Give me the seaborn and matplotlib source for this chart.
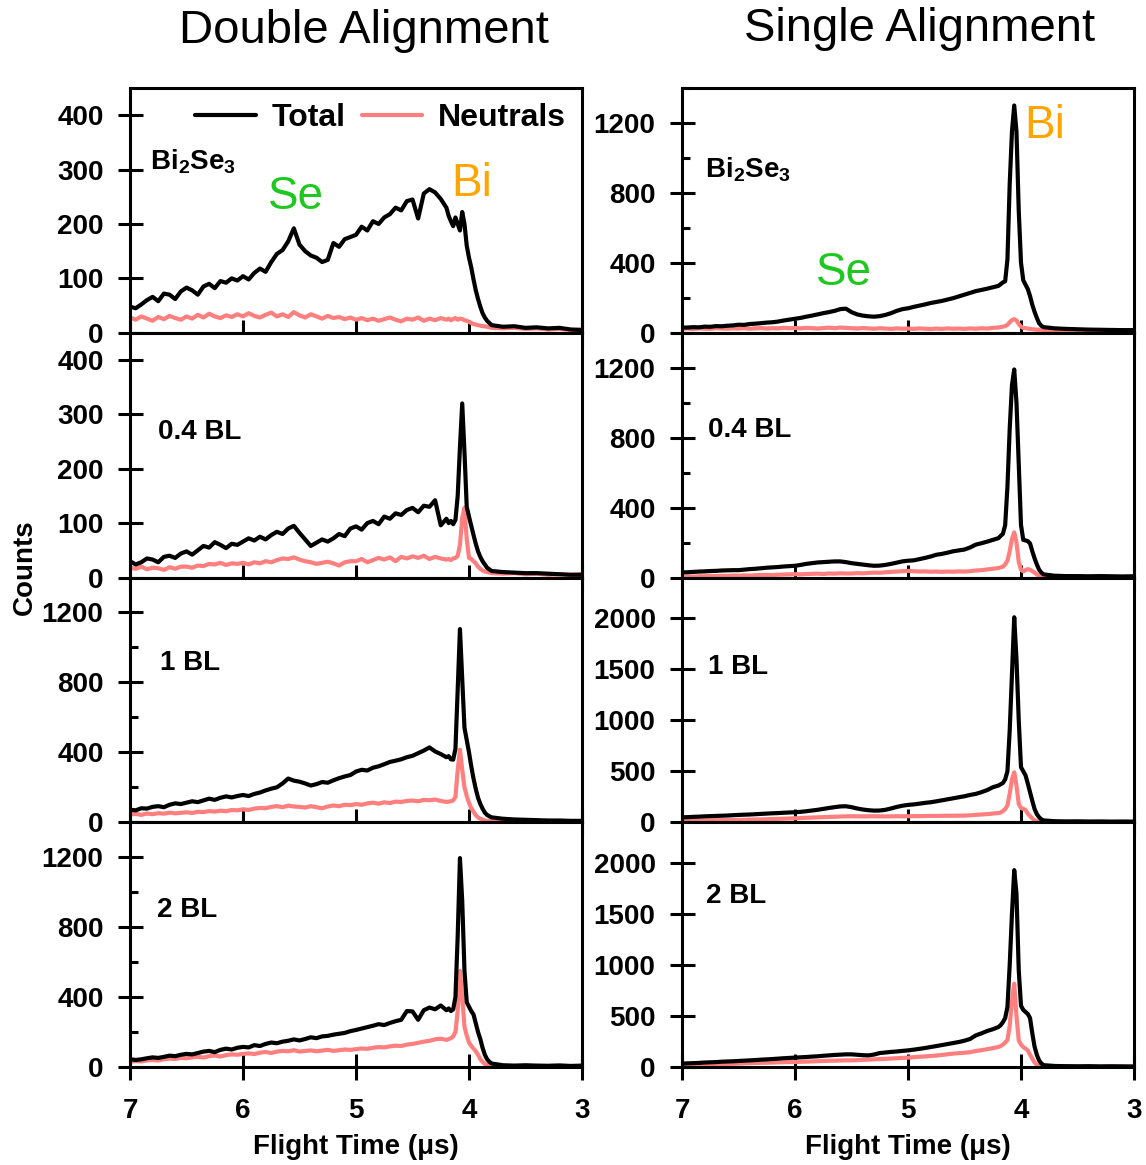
import numpy as np
import pandas as pd
import matplotlib
matplotlib.use("Agg")
import matplotlib.pyplot as plt
import seaborn as sns

# ---------------- data ----------------
flight_time = [7.00, 6.95, 6.90, 6.85, 6.80, 6.75, 6.70, 6.65, 6.60, 6.55,
               6.50, 6.45, 6.40, 6.35, 6.30, 6.25, 6.20, 6.15, 6.10, 6.05,
               6.00, 5.95, 5.90, 5.85, 5.80, 5.75, 5.70, 5.65, 5.60, 5.55,
               5.50, 5.45, 5.40, 5.35, 5.30, 5.25, 5.20, 5.15, 5.10, 5.05,
               5.00, 4.95, 4.90, 4.85, 4.80, 4.75, 4.70, 4.65, 4.60, 4.55,
               4.50, 4.45, 4.40, 4.35, 4.30, 4.25, 4.20,
               4.18, 4.16, 4.14, 4.12, 4.10, 4.08, 4.06, 4.04, 4.02, 4.00,
               3.98, 3.96, 3.94, 3.92, 3.90, 3.88, 3.86, 3.84, 3.82,
               3.80, 3.70, 3.60, 3.50, 3.40, 3.30, 3.20, 3.10, 3.00]

# Double alignment
double_bise_total = [48, 45, 52, 60, 66, 58, 72, 70, 62, 76,
                     83, 78, 70, 85, 90, 82, 95, 92, 100, 96,
                     104, 98, 110, 118, 112, 130, 145, 152, 168, 192,
                     162, 150, 142, 138, 130, 134, 165, 158, 172, 176,
                     180, 195, 188, 205, 200, 212, 218, 230, 225, 242,
                     245, 210, 256, 264, 258, 246, 230,
                     215, 205, 196, 212, 200, 188, 222, 200, 160, 138,
                     120, 98, 78, 62, 48, 36, 28, 22, 18,
                     14, 11, 12, 9, 10, 8, 9, 6, 5]
double_bise_neut = [28, 24, 30, 26, 22, 29, 25, 31, 27, 24,
                    30, 26, 33, 28, 35, 30, 27, 32, 29, 34,
                    30, 36, 31, 28, 33, 37, 30, 34, 29, 38,
                    32, 28, 34, 30, 26, 31, 27, 29, 25, 28,
                    24, 27, 23, 26, 22, 25, 28, 24, 21, 26,
                    24, 28, 22, 26, 23, 27, 24,
                    26, 23, 25, 27, 24, 26, 25, 23, 22, 20,
                    18, 16, 15, 14, 13, 12, 12, 11, 10,
                    9, 8, 9, 7, 8, 6, 7, 5, 6]
double_04_total = [30, 24, 28, 35, 33, 28, 38, 40, 36, 44,
                   48, 42, 50, 58, 55, 65, 60, 54, 62, 60,
                   66, 72, 68, 75, 70, 78, 84, 80, 90, 95,
                   82, 70, 58, 64, 70, 66, 72, 80, 76, 90,
                   94, 88, 100, 104, 98, 112, 108, 118, 115, 124,
                   128, 120, 132, 130, 142, 96, 108,
                   100, 104, 98, 106, 150, 240, 320, 230, 130, 112,
                   95, 78, 62, 48, 38, 30, 24, 18, 15,
                   12, 10, 9, 8, 8, 7, 6, 5, 5]
double_04_neut = [18, 16, 20, 15, 18, 17, 14, 19, 16, 20,
                  20, 18, 22, 21, 25, 24, 27, 23, 26, 25,
                  27, 24, 28, 26, 30, 28, 32, 35, 34, 37,
                  33, 30, 28, 25, 27, 29, 26, 22, 28, 30,
                  30, 34, 28, 32, 36, 33, 37, 30, 38, 35,
                  39, 36, 40, 34, 38, 35, 33,
                  34, 32, 35, 36, 40, 60, 110, 128, 70, 36,
                  34, 30, 26, 20, 16, 13, 11, 10, 9,
                  8, 7, 8, 6, 7, 5, 6, 5, 6]
double_1_total = [72, 68, 80, 78, 88, 92, 86, 100, 108, 104,
                  112, 120, 115, 125, 135, 128, 140, 148, 142, 150,
                  156, 150, 162, 170, 182, 192, 200, 222, 250, 238,
                  232, 222, 210, 218, 230, 226, 240, 252, 262, 270,
                  290, 300, 296, 312, 320, 332, 345, 352, 360, 372,
                  380, 395, 410, 428, 405, 390, 372,
                  378, 360, 358, 420, 760, 1105, 820, 540, 470, 400,
                  320, 250, 190, 140, 105, 78, 55, 42, 34,
                  28, 20, 16, 14, 12, 10, 10, 8, 8]
double_1_neut = [45, 48, 42, 50, 46, 52, 49, 55, 51, 54,
                 57, 53, 60, 58, 64, 61, 66, 63, 70, 68,
                 74, 70, 78, 82, 80, 88, 92, 86, 95, 90,
                 88, 84, 92, 86, 80, 90, 96, 92, 100, 98,
                 104, 100, 108, 112, 106, 114, 110, 118, 116, 122,
                 124, 120, 128, 126, 130, 122, 116,
                 118, 120, 125, 145, 300, 415, 300, 200, 150, 110,
                 80, 60, 40, 28, 20, 15, 10, 8, 7,
                 6, 5, 5, 4, 5, 4, 3, 4, 3]
double_2_total = [45, 40, 44, 50, 55, 52, 58, 65, 62, 70,
                  75, 72, 80, 88, 92, 85, 98, 105, 100, 110,
                  115, 112, 125, 120, 132, 140, 136, 145, 150, 158,
                  152, 160, 170, 165, 175, 178, 185, 190, 195, 205,
                  212, 220, 228, 236, 245, 240, 252, 262, 270, 320,
                  318, 270, 325, 340, 330, 352, 325,
                  335, 320, 330, 400, 750, 1195, 950, 550, 370, 345,
                  320, 300, 250, 200, 160, 110, 70, 45, 30,
                  20, 10, 8, 10, 8, 7, 9, 6, 8]
double_2_neut = [30, 34, 32, 38, 40, 37, 44, 48, 46, 52,
                 50, 55, 58, 54, 62, 66, 60, 68, 72, 70,
                 75, 78, 74, 82, 86, 80, 88, 92, 90, 96,
                 88, 92, 95, 90, 94, 98, 92, 96, 100, 98,
                 102, 106, 104, 110, 114, 112, 118, 122, 120, 128,
                 132, 138, 145, 150, 158, 162, 155,
                 160, 165, 175, 200, 320, 550, 400, 230, 180, 140,
                 120, 105, 90, 70, 45, 30, 18, 12, 9,
                 7, 6, 5, 6, 4, 5, 4, 5, 4]

# Single alignment
single_bise_total = [29, 30, 32, 31, 35, 34, 38, 37, 40, 42,
                     46, 45, 50, 52, 55, 58, 60, 64, 70, 75,
                     80, 85, 92, 98, 105, 112, 118, 125, 135, 138,
                     118, 105, 98, 94, 92, 95, 102, 112, 125, 135,
                     140, 148, 155, 162, 170, 176, 182, 190, 198, 208,
                     218, 228, 238, 245, 252, 260, 268,
                     278, 288, 295, 420, 850, 1150, 1300, 1150, 700, 400,
                     300, 275, 250, 210, 160, 120, 85, 55, 40,
                     32, 25, 22, 20, 18, 17, 16, 15, 15]
single_bise_neut = [22, 24, 21, 25, 23, 22, 26, 24, 23, 25,
                    24, 26, 23, 25, 27, 24, 26, 25, 28, 26,
                    27, 25, 28, 26, 24, 27, 29, 26, 30, 28,
                    26, 24, 27, 25, 23, 26, 24, 22, 25, 23,
                    24, 22, 25, 23, 21, 24, 22, 25, 23, 24,
                    22, 25, 23, 26, 24, 28, 30,
                    32, 35, 38, 45, 60, 72, 78, 70, 50, 35,
                    28, 26, 24, 22, 20, 19, 18, 17, 17,
                    16, 15, 16, 14, 15, 14, 15, 13, 14]
single_04_total = [29, 30, 32, 34, 35, 37, 38, 40, 41, 42,
                   42, 45, 48, 50, 53, 56, 58, 60, 63, 65,
                   67, 72, 78, 82, 86, 88, 90, 92, 92, 88,
                   82, 78, 74, 70, 67, 68, 72, 78, 85, 92,
                   96, 98, 105, 112, 120, 130, 135, 142, 150, 155,
                   160, 172, 188, 196, 205, 215, 225,
                   238, 250, 300, 520, 850, 1100, 1190, 1000, 650, 300,
                   215, 212, 208, 195, 150, 110, 75, 45, 28,
                   18, 10, 8, 8, 7, 8, 7, 6, 7]
single_04_neut = [4, 6, 5, 8, 7, 9, 8, 10, 9, 11,
                  10, 12, 11, 13, 14, 15, 14, 16, 17, 18,
                  19, 18, 20, 21, 22, 20, 23, 22, 24, 23,
                  23, 25, 24, 26, 28, 27, 30, 32, 34, 36,
                  38, 36, 34, 35, 33, 34, 32, 34, 33, 35,
                  34, 36, 40, 42, 46, 50, 54,
                  58, 62, 75, 96, 150, 220, 258, 200, 90, 45,
                  35, 42, 48, 44, 36, 28, 18, 10, 6,
                  4, 3, 4, 3, 3, 4, 3, 3, 4]
single_1_total = [49, 50, 53, 55, 58, 60, 62, 64, 66, 69,
                  72, 74, 76, 79, 82, 85, 88, 90, 93, 96,
                  98, 102, 108, 115, 122, 131, 140, 148, 155, 157,
                  148, 135, 125, 118, 114, 115, 122, 135, 150, 162,
                  170, 175, 182, 190, 196, 205, 215, 225, 235, 245,
                  255, 268, 278, 295, 315, 343, 360,
                  372, 385, 420, 500, 900, 1450, 2010, 1600, 1000, 540,
                  500, 460, 380, 295, 210, 130, 80, 50, 28,
                  18, 10, 8, 9, 7, 8, 6, 7, 6]
single_1_neut = [16, 17, 18, 18, 19, 20, 20, 21, 22, 22,
                 23, 24, 26, 27, 28, 30, 32, 33, 35, 37,
                 39, 41, 44, 46, 48, 50, 52, 54, 56, 58,
                 59, 58, 57, 58, 59, 58, 57, 58, 59, 58,
                 59, 60, 60, 61, 62, 62, 63, 64, 64, 65,
                 65, 68, 72, 76, 80, 85, 90,
                 95, 110, 130, 165, 280, 420, 490, 360, 180, 140,
                 132, 120, 85, 60, 38, 18, 10, 6, 5,
                 4, 4, 3, 4, 3, 3, 4, 3, 3]
single_2_total = [33, 36, 38, 40, 44, 46, 48, 52, 54, 56,
                  59, 62, 65, 68, 72, 75, 78, 82, 86, 89,
                  92, 95, 98, 102, 105, 110, 114, 118, 121, 124,
                  124, 120, 116, 114, 122, 137, 142, 148, 152, 158,
                  163, 170, 178, 186, 196, 205, 215, 225, 235, 245,
                  258, 275, 310, 330, 353, 370, 392,
                  410, 440, 480, 588, 1000, 1500, 1930, 1700, 950, 600,
                  560, 540, 520, 480, 330, 200, 120, 65, 35,
                  18, 10, 8, 7, 8, 6, 7, 6, 5]
single_2_neut = [16, 18, 19, 21, 22, 24, 25, 27, 29, 31,
                 33, 35, 37, 39, 41, 42, 44, 46, 47, 49,
                 49, 51, 53, 55, 57, 59, 61, 62, 64, 65,
                 65, 67, 70, 72, 75, 78, 80, 83, 86, 89,
                 92, 96, 100, 104, 108, 112, 118, 125, 131, 136,
                 140, 145, 157, 165, 175, 185, 196,
                 205, 220, 240, 265, 400, 650, 817, 500, 261, 220,
                 196, 180, 163, 120, 82, 45, 22, 12, 8,
                 5, 4, 4, 3, 4, 3, 4, 3, 3]

row_labels = [r"$\mathbf{Bi_2Se_3}$", "0.4 BL", "1 BL", "2 BL"]
series_names = ["Total", "Neutrals"]
xticks = [7, 6, 5, 4, 3]

panels = [
    # (row, col, total, neutrals, ylim, major, minor, label_pos)
    (0, 0, double_bise_total, double_bise_neut, 450, [0, 100, 200, 300, 400], [], (0.044, 0.70)),
    (1, 0, double_04_total, double_04_neut, 450, [0, 100, 200, 300, 400], [], (0.062, 0.596)),
    (2, 0, double_1_total, double_1_neut, 1400, [0, 400, 800, 1200], [200, 600, 1000], (0.066, 0.65)),
    (3, 0, double_2_total, double_2_neut, 1400, [0, 400, 800, 1200], [200, 600, 1000], (0.060, 0.64)),
    (0, 1, single_bise_total, single_bise_neut, 1400, [0, 400, 800, 1200], [200, 600, 1000, 1400], (0.051, 0.665)),
    (1, 1, single_04_total, single_04_neut, 1400, [0, 400, 800, 1200], [200, 600, 1000, 1400], (0.058, 0.604)),
    (2, 1, single_1_total, single_1_neut, 2400, [0, 500, 1000, 1500, 2000], [], (0.058, 0.633)),
    (3, 1, single_2_total, single_2_neut, 2400, [0, 500, 1000, 1500, 2000], [], (0.053, 0.698)),
]

# ---------------- style ----------------
sns.set_style("ticks")
plt.rcParams['font.family'] = ['Liberation Sans', 'DejaVu Sans']
plt.rcParams['mathtext.fontset'] = 'custom'
plt.rcParams['mathtext.rm'] = 'Liberation Sans'
plt.rcParams['mathtext.bf'] = 'Liberation Sans:bold'
plt.rcParams['axes.linewidth'] = 2.2
for key in ['text.color', 'axes.labelcolor', 'xtick.color', 'ytick.color', 'axes.edgecolor']:
    plt.rcParams[key] = 'black'

BLACK = "#000000"
PINK = "#FF7F7F"
GREEN = "#1EC81E"
ORANGE = "#FFA500"

fig = plt.figure(figsize=(11.46, 11.65), dpi=100)
gs = fig.add_gridspec(4, 2, left=130/1146, right=1134/1146,
                      top=1 - 88/1165, bottom=1 - 1067/1165,
                      hspace=0, wspace=100/452)

for row, col, tot, neu, ytop, major, minor, lpos in panels:
    ax = fig.add_subplot(gs[row, col])
    df = pd.DataFrame({"t": flight_time, "Total": tot, "Neutrals": neu})
    sns.lineplot(data=df, x="t", y="Neutrals", color=PINK, lw=3, ax=ax,
                 label="Neutrals" if (row == 0 and col == 0) else None, legend=False)
    sns.lineplot(data=df, x="t", y="Total", color=BLACK, lw=3, ax=ax,
                 label="Total" if (row == 0 and col == 0) else None, legend=False)
    ax.set_xlim(7, 3)
    ax.set_ylim(0, ytop)
    ax.set_xticks(xticks)
    ax.set_yticks(major)
    ax.set_yticks(minor, minor=True)
    ax.set_ylabel("")
    for s in ax.spines.values():
        s.set_linewidth(2.2)
        s.set_color("black")
    ax.tick_params(axis='x', which='major', direction='inout', length=19, width=2.2,
                   labelsize=20, pad=13, labelbottom=(row == 3), colors='black')
    ax.tick_params(axis='y', which='major', direction='inout', length=18, width=2.2,
                   labelsize=20, pad=10, colors='black')
    ax.tick_params(axis='y', which='minor', direction='in', length=6, width=2.2, colors='black')
    for lab in ax.get_xticklabels() + ax.get_yticklabels():
        lab.set_fontweight('bold')
    if row == 3:
        ax.set_xlabel("Flight Time (μs)", fontsize=20, fontweight='bold', labelpad=7,
                      color='black')
    else:
        ax.set_xlabel("")
    ax.text(lpos[0], lpos[1], row_labels[row], transform=ax.transAxes,
            fontsize=20, fontweight='bold', ha='left', va='center', color='black')

    if row == 0 and col == 0:
        h, l = ax.get_legend_handles_labels()
        order = [l.index(n) for n in series_names]
        leg = ax.legend([h[i] for i in order], [l[i] for i in order],
                        loc='center right', bbox_to_anchor=(0.965, 0.878),
                        ncol=2, frameon=False, borderpad=0, borderaxespad=0,
                        handlelength=1.9, handletextpad=0.5, columnspacing=0.5,
                        prop={'size': 23, 'weight': 'bold'})
        for t in leg.get_texts():
            t.set_color('black')
        ax.text(0.367, 0.555, "Se", transform=ax.transAxes, color=GREEN,
                fontsize=33, ha='center', va='center')
        ax.text(0.757, 0.608, "Bi", transform=ax.transAxes, color=ORANGE,
                fontsize=33, ha='center', va='center')
    if row == 0 and col == 1:
        ax.text(0.358, 0.245, "Se", transform=ax.transAxes, color=GREEN,
                fontsize=33, ha='center', va='center')
        ax.text(0.803, 0.845, "Bi", transform=ax.transAxes, color=ORANGE,
                fontsize=33, ha='center', va='center')

fig.text(364/1146, 1 - 31/1165, "Double Alignment", fontsize=34, ha='center', va='center',
         color='black')
fig.text(920/1146, 1 - 29/1165, "Single Alignment", fontsize=34, ha='center', va='center',
         color='black')
fig.text(25/1146, 1 - 567/1165, "Counts", fontsize=20, fontweight='bold',
         rotation=90, ha='center', va='center', color='black')

fig.savefig("out.png", dpi=100)
